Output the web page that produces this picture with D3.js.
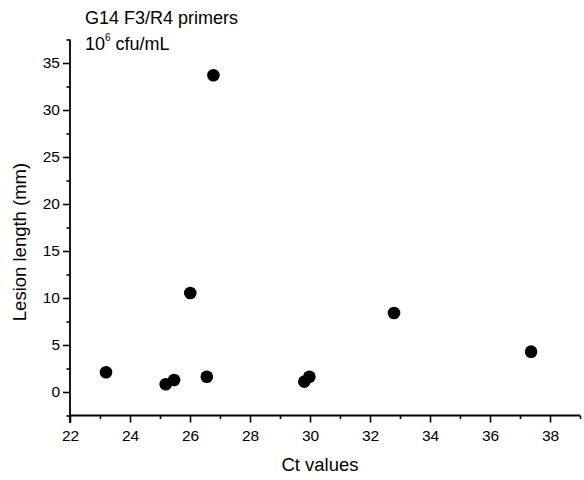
<!DOCTYPE html>
<html><head><meta charset="utf-8">
<script src="https://cdn.jsdelivr.net/npm/d3@7"></script>
<style>body{margin:0;background:#fff}svg{display:block}text{font-family:"Liberation Sans",Arial,sans-serif;fill:#000}</style>
</head><body><svg id="c" width="584" height="480"></svg>
<script>
const ctValues = [23.2, 25.19, 25.47, 26.01, 26.56, 26.78, 29.81, 29.98, 32.8, 37.37];
const lesionLengths = [2.1, 0.82, 1.28, 10.53, 1.63, 33.69, 1.1, 1.63, 8.4, 4.29];
const xTicks = [22, 24, 26, 28, 30, 32, 34, 36, 38];
const xMinorTicks = [23, 25, 27, 29, 31, 33, 35, 37, 39];
const yTicks = [0, 5, 10, 15, 20, 25, 30, 35];
const yMinorTicks = [-2.5, 2.5, 7.5, 12.5, 17.5, 22.5, 27.5, 32.5, 37.5];

const svg = d3.select("#c");
const x = d3.scaleLinear().domain([22, 39]).range([70, 580]);
const y = d3.scaleLinear().domain([-2.5, 37.5]).range([415.5, 39.5]);

function style(g){
  g.select(".domain").attr("stroke","#000").attr("stroke-width",1.8);
  g.selectAll(".tick line").attr("stroke","#000").attr("stroke-width",1.6);
  g.selectAll("text").style("font-size","15.5px").attr("fill","#000");
}
// x axis
svg.append("g").attr("transform","translate(0,415.5)")
  .call(d3.axisBottom(x).tickValues(xMinorTicks).tickSize(3.5).tickFormat("").tickSizeOuter(0))
  .call(style).select(".domain").remove();
svg.append("g").attr("transform","translate(0,415.5)")
  .call(d3.axisBottom(x).tickValues(xTicks).tickSize(7).tickPadding(7).tickSizeOuter(0))
  .call(style).select(".domain").attr("d","M70,0H580");
// y axis
svg.append("g").attr("transform","translate(70,0)")
  .call(d3.axisLeft(y).tickValues(yMinorTicks).tickSize(3.5).tickFormat("").tickSizeOuter(0))
  .call(style).select(".domain").remove();
svg.append("g").attr("transform","translate(70,0)")
  .call(d3.axisLeft(y).tickValues(yTicks).tickSize(7).tickPadding(3).tickSizeOuter(0))
  .call(style).select(".domain").attr("d","M0,39.5V423");

// points
svg.append("g").selectAll("circle").data(ctValues).join("circle")
  .attr("cx",(d,i)=>x(d)).attr("cy",(d,i)=>y(lesionLengths[i])).attr("r",6.3).attr("fill","#000");

// titles
svg.append("text").attr("x",85).attr("y",24).style("font-size","18px").text("G14 F3/R4 primers");
const t2 = svg.append("text").attr("x",85).attr("y",50).style("font-size","18px");
t2.append("tspan").text("10");
t2.append("tspan").attr("dy",-9).style("font-size","10px").text("6");
t2.append("tspan").attr("dy",9).text(" cfu/mL");

svg.append("text").attr("x",320).attr("y",471).attr("text-anchor","middle").style("font-size","18.5px").text("Ct values");
svg.append("text").attr("transform","translate(26,242) rotate(-90)").attr("text-anchor","middle").style("font-size","18.5px").text("Lesion length (mm)");
</script></body></html>
